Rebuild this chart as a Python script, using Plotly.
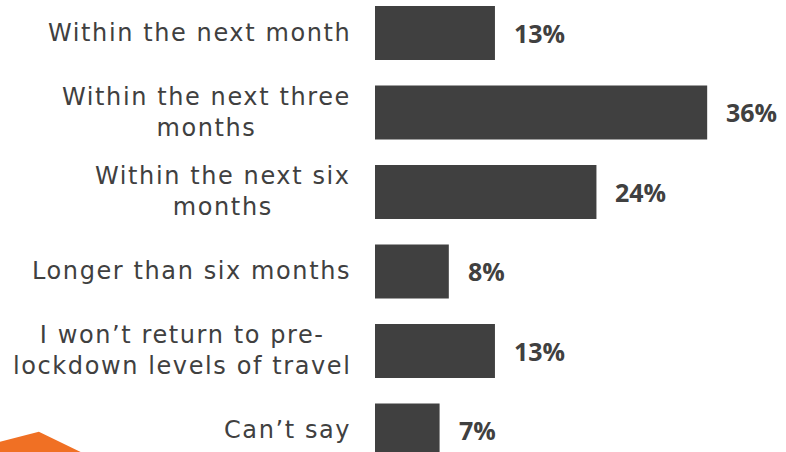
import plotly.graph_objects as go

labels = [
    "Within the next month",
    "Within the next three<br>months",
    "Within the next six<br>months",
    "Longer than six months",
    "I won\u2019t return to pre-<br>lockdown levels of travel",
    "Can\u2019t say",
]
values = [13, 36, 24, 8, 13, 7]

dark = "#404040"

fig = go.Figure()
fig.add_trace(go.Bar(
    y=labels, x=values, orientation="h",
    marker=dict(color=dark, line=dict(width=0)),
    width=0.68, hoverinfo="skip",
))

annotations = []
for lab, v in zip(labels, values):
    # category label on the left (a bit of letter spacing to mimic the original wide font)
    spaced = "<br>".join(f'<span style="letter-spacing:1.6px">{part}</span>' for part in lab.split("<br>"))
    annotations.append(dict(
        x=0, xref="paper", y=lab, yref="y", text=spaced,
        xanchor="right", yanchor="middle", align="center", xshift=-22,
        showarrow=False, font=dict(family="DejaVu Sans", size=24, color=dark),
    ))
    # value label to the right of the bar
    annotations.append(dict(
        x=v, xref="x", y=lab, yref="y", text=f"<b>{v}%</b>",
        xanchor="left", yanchor="middle", xshift=17,
        showarrow=False, font=dict(family="Open Sans", size=25, color=dark),
    ))

fig.update_layout(
    width=786, height=452,
    margin=dict(l=375, r=5, t=0, b=0),
    paper_bgcolor="white", plot_bgcolor="white",
    showlegend=False,
    xaxis=dict(range=[0, 44], visible=False, fixedrange=True),
    yaxis=dict(type="category", range=[5.271, -0.415], visible=False, fixedrange=True),
    annotations=annotations,
    shapes=[dict(
        type="path", xref="paper", yref="paper", layer="below",
        path="M -0.924,0.0228 L -0.828,0.0449 L -0.702,-0.01 L -0.924,-0.01 Z",
        fillcolor="#F07024", line=dict(width=0),
    )],
)

fig.write_html("out.html", config={"displayModeBar": False},
               post_script="document.body.style.margin='0px';")
